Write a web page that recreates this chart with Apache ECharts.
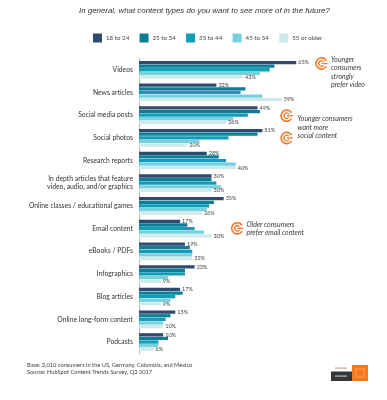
<!DOCTYPE html>
<html><head><meta charset="utf-8">
<style>html,body{margin:0;padding:0;background:#fff}#c{width:387px;height:400px}</style>
<script src="https://cdn.jsdelivr.net/npm/echarts@6/dist/echarts.min.js"></script>
</head><body><div id="c"></div>
<script>
const categories = ["Videos","News articles","Social media posts","Social photos","Research reports","In depth articles that feature\nvideo, audio, and/or graphics","Online classes / educational games","Email content","eBooks / PDFs","Infographics","Blog articles","Online long-form content","Podcasts"];
const age18to24 = [65,32,49,51,28,30,35,17,19,23,17,15,10];
const age25to34 = [56,44,50,49,33,30,31,20,21,19,18,13,12];
const age35to44 = [54,42,45,37,36,32,29,23,22,19,15,11,8];
const age45to54 = [50,51,39,25,40,34,28,27,22,12,13,10,8];
const age55plus = [43,59,36,20,40,30,26,30,22,9,9,10,6];
const seriesNames = ["18 to 24","25 to 34","35 to 44","45 to 54","55 or older"];
const colors = ["#2f4a6e","#0b7f96","#119db8","#78cfdd","#cfeaea"];
const allValues = [age18to24,age25to34,age35to44,age45to54,age55plus];
const FONT = "Lato";
const ORANGE = "#f5792a";

function icon(cx, cy){
  return {type:'group', x:cx, y:cy, silent:true, children:[
    {type:'arc', shape:{cx:0,cy:0,r:5.6,startAngle:0.55,endAngle:-0.55,clockwise:true}, style:{stroke:ORANGE,lineWidth:1.6,fill:null}},
    {type:'arc', shape:{cx:0,cy:0,r:2.7,startAngle:0.7,endAngle:-0.7,clockwise:true}, style:{stroke:ORANGE,lineWidth:1.3,fill:null}},
    {type:'polyline', shape:{points:[[0,0],[6,0]]}, style:{stroke:ORANGE,lineWidth:1.3,fill:null}}
  ]};
}
function note(x, y, s){
  return {type:'text', x:x, y:y, silent:true, style:{text:s, font:'italic 6.9px '+FONT, fill:'#3a3a3a', lineHeight:8.5, textVerticalAlign:'top'}};
}
const chart = echarts.init(document.getElementById('c'));
chart.setOption({
  animation:false,
  backgroundColor:'#fff',
  title:{text:'In general, what content types do you want to see more of in the future?',
    left:79, top:7, padding:0, textStyle:{fontFamily:'Liberation Sans',fontStyle:'italic',fontWeight:'normal',fontSize:7.9,color:'#333'}},
  legend:{left:93, top:33.5, padding:0, itemWidth:9, itemHeight:9, itemGap:10.3, icon:'rect',
    textStyle:{fontFamily:FONT,fontSize:6.2,color:'#444',padding:[0,0,0,-1]},
    data:seriesNames},
  grid:{left:139, right:40, top:58.4, height:295, containLabel:false},
  xAxis:{type:'value', min:0, max:86, show:false},
  yAxis:{type:'category', inverse:true, data:categories,
    axisLine:{show:true,lineStyle:{color:'#b5b5b5',width:1}}, axisTick:{show:false},
    axisLabel:{fontFamily:FONT,fontSize:6.8,color:'#333',margin:6,lineHeight:8,align:'right'}},
  series:allValues.map((vals,i)=>({
    name:seriesNames[i], type:'bar', data:vals, barGap:'10%', barCategoryGap:'22%',
    itemStyle:{color:colors[i]},
    label:{show:i===0||i===4, position:'right', distance:2, formatter:'{c}%', fontFamily:FONT, fontSize:5.5, color:'#444'}
  })),
  graphic:[
    icon(321.5,63.5), note(331,55.5,'Younger\nconsumers\nstrongly\nprefer video'),
    icon(286.7,115.7), note(297.5,115,'Younger consumers\nwant more\nsocial content'),
    icon(286.7,138),
    icon(237.3,228.3), note(246.5,220.5,'Older consumers\nprefer email content'),
    {type:'text', x:27, y:362, silent:true, style:{text:'Base: 3,010 consumers in the US, Germany, Colombia, and Mexico\nSource: HubSpot Content Trends Survey, Q3 2017', font:'5.7px '+FONT, fill:'#444', lineHeight:7, textVerticalAlign:'top'}},
    {type:'rect', silent:true, shape:{x:331,y:371.5,width:21,height:9.5}, style:{fill:'#33373a'}},
    {type:'rect', silent:true, shape:{x:352,y:365,width:16,height:16}, style:{fill:'#f47a20'}},
    {type:'rect', silent:true, shape:{x:356,y:369,width:8,height:8}, style:{fill:null,stroke:'#f9b27d',lineWidth:0.7}},
    {type:'rect', silent:true, shape:{x:335,y:375.5,width:12,height:1.2}, style:{fill:'#bbb'}},
    {type:'rect', silent:true, shape:{x:335,y:367.5,width:12,height:1.2}, style:{fill:'#c9a98c'}}
  ]
});
</script></body></html>
